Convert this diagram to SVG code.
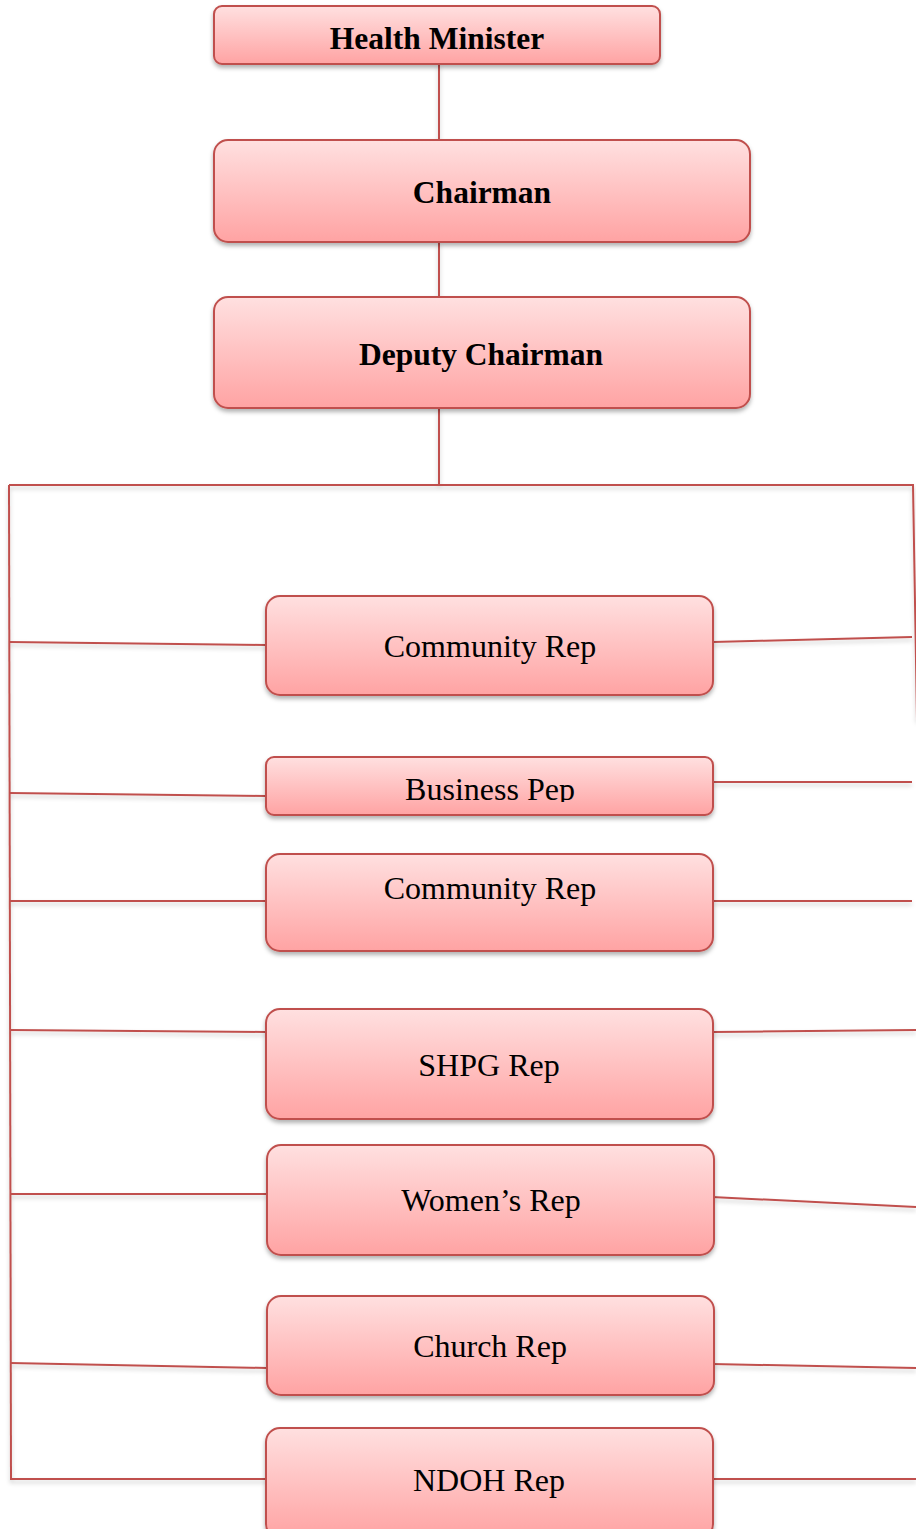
<svg xmlns="http://www.w3.org/2000/svg" width="916" height="1529" viewBox="0 0 916 1529">
<defs>
<linearGradient id="g" x1="0" y1="0" x2="0" y2="1">
<stop offset="0" stop-color="#ffe0e0"/>
<stop offset="1" stop-color="#ffa3a3"/>
</linearGradient>
<filter id="sh" x="-10%" y="-20%" width="120%" height="150%">
<feDropShadow dx="0" dy="3" stdDeviation="2" flood-color="#000" flood-opacity="0.3"/>
</filter>
<filter id="lsh" x="-5%" y="-5%" width="110%" height="110%" filterUnits="userSpaceOnUse">
<feDropShadow dx="0" dy="3" stdDeviation="2" flood-color="#000" flood-opacity="0.2"/>
</filter>
<clipPath id="cpB"><rect x="266" y="757" width="447" height="45"/></clipPath>
</defs>
<style>
.box{fill:url(#g);stroke:#c0504d;stroke-width:2;filter:url(#sh)}
.ln{fill:none;stroke:#c0504d;stroke-width:2}
.b{font-family:"Liberation Serif","Times New Roman",serif;font-weight:bold;font-size:31.5px;fill:#000;text-anchor:middle}
.r{font-family:"Liberation Serif","Times New Roman",serif;font-size:32px;fill:#000;text-anchor:middle}
</style>
<g id="connectors" filter="url(#lsh)">
<line class="ln" x1="439" y1="64" x2="439" y2="140"/>
<line class="ln" x1="439" y1="242" x2="439" y2="297"/>
<line class="ln" x1="439" y1="408" x2="439" y2="485"/>
<polyline class="ln" points="9,485 913,485 917,720"/>
<line class="ln" x1="9" y1="485" x2="11" y2="1479"/>
<line class="ln" x1="9" y1="642" x2="266" y2="645"/>
<line class="ln" x1="9" y1="793" x2="266" y2="796"/>
<line class="ln" x1="10" y1="901" x2="266" y2="901"/>
<line class="ln" x1="10" y1="1030" x2="266" y2="1032"/>
<line class="ln" x1="10" y1="1194" x2="267" y2="1194"/>
<line class="ln" x1="10" y1="1363" x2="267" y2="1368"/>
<line class="ln" x1="10" y1="1479" x2="266" y2="1479"/>
<line class="ln" x1="713" y1="642" x2="912" y2="637"/>
<line class="ln" x1="713" y1="782" x2="912" y2="782"/>
<line class="ln" x1="713" y1="901" x2="912" y2="901"/>
<line class="ln" x1="713" y1="1032" x2="916" y2="1030"/>
<line class="ln" x1="712" y1="1197" x2="916" y2="1207"/>
<line class="ln" x1="712" y1="1364" x2="916" y2="1368"/>
<line class="ln" x1="713" y1="1479" x2="916" y2="1479"/>
</g>
<g id="health-minister"><rect class="box" x="214" y="6" width="446" height="58" rx="8"/><text class="b" x="437" y="49">Health Minister</text></g>
<g id="chairman"><rect class="box" x="214" y="140" width="536" height="102" rx="14"/><text class="b" x="482" y="203">Chairman</text></g>
<g id="deputy-chairman"><rect class="box" x="214" y="297" width="536" height="111" rx="14"/><text class="b" x="481" y="365">Deputy Chairman</text></g>
<g id="community-rep-1"><rect class="box" x="266" y="596" width="447" height="99" rx="14"/><text class="r" x="490" y="657">Community Rep</text></g>
<g id="business-rep"><rect class="box" x="266" y="757" width="447" height="58" rx="8"/><text class="r" x="490" y="800" clip-path="url(#cpB)">Business Pep</text></g>
<g id="community-rep-2"><rect class="box" x="266" y="854" width="447" height="97" rx="14"/><text class="r" x="490" y="899">Community Rep</text></g>
<g id="shpg-rep"><rect class="box" x="266" y="1009" width="447" height="110" rx="14"/><text class="r" x="489" y="1076">SHPG Rep</text></g>
<g id="womens-rep"><rect class="box" x="267" y="1145" width="447" height="110" rx="14"/><text class="r" x="491" y="1211">Women’s Rep</text></g>
<g id="church-rep"><rect class="box" x="267" y="1296" width="447" height="99" rx="14"/><text class="r" x="490" y="1357">Church Rep</text></g>
<g id="ndoh-rep"><rect class="box" x="266" y="1428" width="447" height="110" rx="14"/><text class="r" x="489" y="1491">NDOH Rep</text></g>
</svg>
